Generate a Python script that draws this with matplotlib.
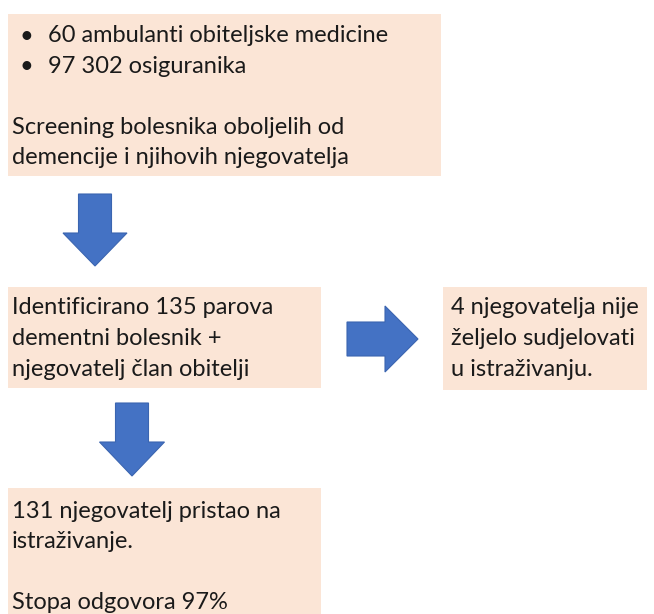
import matplotlib
matplotlib.use('Agg')
import matplotlib.pyplot as plt
from matplotlib.patches import Rectangle, Polygon

# Texts of the flow chart
bullets = ['60 ambulanti obiteljske medicine', '97 302 osiguranika']
screening = ['Screening bolesnika oboljelih od', 'demencije i njihovih njegovatelja']
identified = ['Identificirano 135 parova', 'dementni bolesnik +', 'njegovatelj član obitelji']
declined = ['4 njegovatelja nije', 'željelo sudjelovati', 'u istraživanju.']
included = ['131 njegovatelj pristao na', 'istraživanje.', '', 'Stopa odgovora 97%']

box_color = '#FBE5D6'
arrow_color = '#4472C4'
font = 'Lato'
fs = 17
line_h = 30.5

fig = plt.figure(figsize=(6.54, 6.14), dpi=100)
ax = fig.add_axes([0, 0, 1, 1])
ax.set_xlim(0, 654)
ax.set_ylim(614, 0)
ax.axis('off')


def box(x0, y0, x1, y1):
    ax.add_patch(Rectangle((x0, y0), x1 - x0, y1 - y0, facecolor=box_color, edgecolor='none'))


def lines(x, y, items):
    for i, t in enumerate(items):
        ax.text(x, y + i * line_h, t, fontsize=fs, family=font, color='#1a1a1a',
                va='center', ha='left')


# boxes
box(8, 14, 441, 176)
box(8, 287, 321, 388)
box(443, 287, 647, 390)
box(8, 488, 321, 620)

# box 1
for i, t in enumerate(bullets):
    ax.text(20, 36 + i * line_h, '•', fontsize=fs, family=font, color='#1a1a1a', va='center')
lines(48, 36, bullets)
lines(12, 127, screening)

lines(12, 308, identified)
lines(451, 308, declined)
lines(12, 511, included)


# arrows
def down_arrow(cx, sw, hw, y0, yh, y1):
    pts = [(cx - sw / 2, y0), (cx + sw / 2, y0), (cx + sw / 2, yh), (cx + hw / 2, yh),
           (cx, y1), (cx - hw / 2, yh), (cx - sw / 2, yh)]
    ax.add_patch(Polygon(pts, closed=True, facecolor=arrow_color, edgecolor='#3b65b0', lw=0.8))


def right_arrow(cy, sh, hh, x0, xh, x1):
    pts = [(x0, cy - sh / 2), (xh, cy - sh / 2), (xh, cy - hh / 2), (x1, cy),
           (xh, cy + hh / 2), (xh, cy + sh / 2), (x0, cy + sh / 2)]
    ax.add_patch(Polygon(pts, closed=True, facecolor=arrow_color, edgecolor='#3b65b0', lw=0.8))


down_arrow(95, 33, 64, 194, 233, 266)
down_arrow(132, 33, 65, 403, 442, 476)
right_arrow(339, 34, 66, 347, 385, 418)

fig.savefig('out.png', dpi=100)
